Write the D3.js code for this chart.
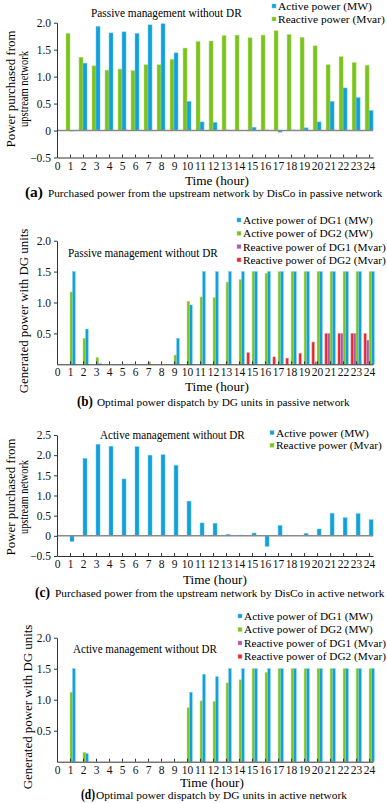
<!DOCTYPE html>
<html>
<head>
<meta charset="utf-8">
<script src="https://cdn.jsdelivr.net/npm/d3@7"></script>
<style>
  html, body { margin: 0; padding: 0; background: #fff; }
  svg { display: block; font-family: 'Liberation Serif', 'DejaVu Serif', serif; }
</style>
</head>
<body>
<svg id="chart" width="387" height="803"></svg>
<script>
// hours on the x axis and their tick labels
const hours = [1, 2, 3, 4, 5, 6, 7, 8, 9, 10, 11, 12, 13, 14, 15, 16, 17, 18, 19, 20, 21, 22, 23, 24];
const xTicks = [0, 1, 2, 3, 4, 5, 6, 7, 8, 9, 10, 11, 12, 13, 14, 15, 16, 17, 18, 19, 20, 21, 22, 23, 24];

// (a) passive network, power bought from upstream
const passiveGridActive = [-0.01, 1.25, 1.93, 1.81, 1.83, 1.80, 1.96, 1.98, 1.44, 0.54, 0.16, 0.15, 0.01, 0, 0.06, 0.01, -0.03, 0.01, 0.05, 0.16, 0.54, 0.79, 0.61, 0.37];
const passiveGridReactive = [1.80, 1.36, 1.20, 1.12, 1.14, 1.11, 1.22, 1.22, 1.32, 1.53, 1.65, 1.66, 1.76, 1.77, 1.72, 1.77, 1.85, 1.78, 1.73, 1.57, 1.22, 1.37, 1.26, 1.21];

// (b) passive network, DG dispatch
const passiveDG1Active = [1.5, 0.57, 0.01, 0, 0, 0, 0, 0, 0.42, 0.96, 1.5, 1.5, 1.5, 1.5, 1.5, 1.5, 1.5, 1.5, 1.5, 1.5, 1.5, 1.5, 1.5, 1.5];
const passiveDG2Active = [1.17, 0.42, 0.11, 0, 0, 0, 0.04, 0, 0.15, 1.02, 1.09, 1.08, 1.33, 1.37, 1.5, 1.47, 1.5, 1.5, 1.5, 1.5, 1.5, 1.5, 1.5, 1.5];
const passiveDG1Reactive = [0, 0, 0, 0, 0, 0, 0, 0, 0, 0, 0, 0, 0, 0, 0, 0, 0, 0, 0, 0.04, 0.5, 0.5, 0.5, 0.39];
const passiveDG2Reactive = [0, 0, 0, 0, 0, 0, 0, 0, 0, 0, 0, 0, 0, 0, 0.19, 0, 0.12, 0.10, 0.18, 0.36, 0.5, 0.5, 0.5, 0.5];

// (c) active network, power bought from upstream
const activeGridActive = [-0.14, 1.92, 2.27, 2.22, 1.41, 2.21, 2.00, 2.01, 1.75, 0.86, 0.32, 0.31, 0.04, 0.02, 0.07, -0.26, 0.26, 0, 0.06, 0.17, 0.56, 0.45, 0.55, 0.40];
const activeGridReactive = [0, 0, 0, 0, 0, 0, 0, 0, 0, 0, 0, 0, 0, 0, 0, 0, 0, 0, 0, 0, 0, 0, 0, 0];

// (d) active network, DG dispatch
const activeDG1Active = [1.5, 0.13, 0, 0, 0, 0, 0, 0, 0, 1.12, 1.41, 1.37, 1.5, 1.5, 1.5, 1.5, 1.5, 1.5, 1.5, 1.5, 1.5, 1.5, 1.5, 1.5];
const activeDG2Active = [1.12, 0.15, 0, 0, 0, 0, 0, 0, 0, 0.87, 0.98, 0.97, 1.27, 1.32, 1.5, 1.44, 1.5, 1.5, 1.5, 1.5, 1.5, 1.5, 1.5, 1.5];
const activeDG1Reactive = [0, 0, 0, 0, 0, 0, 0, 0, 0, 0, 0, 0, 0, 0, 0, 0, 0, 0, 0, 0, 0, 0, 0, 0];
const activeDG2Reactive = [0, 0, 0, 0, 0, 0, 0, 0, 0, 0, 0, 0, 0, 0, 0, 0, 0, 0, 0, 0, 0, 0, 0, 0];

const BLUE = '#12a0da', GREEN = '#7cc21e', PURPLE = '#a85aae', RED = '#e4282c';
const EDGE = { [BLUE]: '#6cc8ee', [GREEN]: '#b0de70', [PURPLE]: '#d39ad6', [RED]: '#f29a9a' };

const svg = d3.select('#chart');
const x = d3.scaleLinear().domain([0, 24.3]).range([57, 373]);
const fmt = v => v === 0 ? '0' : d3.format('.1f')(v);

// stretch a text horizontally (along its own direction) to the width it has in the reference
function fit(sel, w) {
    const node = sel.node();
    const natural = node.getComputedTextLength();
    if (!natural) return sel;
    const k = w / natural;
    const x0 = +sel.attr('x') || 0, y0 = +sel.attr('y') || 0;
    const prev = sel.attr('transform') || '';
    return sel.attr('transform', `${prev} translate(${x0},${y0}) scale(${k},1) translate(${-x0},${-y0})`);
}

function drawPanel(p) {
    const y = d3.scaleLinear().domain(p.domain).range([p.yBottom, p.yTop]);
    const g = svg.append('g');

    // bars
    p.series.forEach(s => {
        g.selectAll(null)
            .data(hours.map((h, i) => ({ h: h, v: s.values[i] })).filter(d => d.v !== 0))
            .enter()
            .append('rect')
            .attr('x', d => x(d.h) + s.off * p.barW)
            .attr('width', p.barW)
            .attr('y', d => Math.min(y(d.v), y(0)))
            .attr('height', d => Math.abs(y(d.v) - y(0)))
            .attr('fill', s.color)
            .attr('stroke', EDGE[s.color])
            .attr('stroke-width', 0.5);
    });

    if (p.zeroLine) {
        g.append('line')
            .attr('x1', x(0)).attr('x2', x(24.3))
            .attr('y1', y(0)).attr('y2', y(0))
            .attr('stroke', '#8a8a8a').attr('stroke-width', 1.5);
    }

    const xAxis = g.append('g')
        .attr('transform', `translate(0,${p.yBottom})`)
        .call(d3.axisBottom(x).tickValues(xTicks).tickFormat(d3.format('d')).tickSizeInner(-3).tickSizeOuter(0).tickPadding(4));
    const yAxis = g.append('g')
        .attr('transform', `translate(${x(0)},0)`)
        .call(d3.axisLeft(y).tickValues(p.yTicks).tickFormat(fmt).tickSize(3).tickSizeOuter(0).tickPadding(3));
    [xAxis, yAxis].forEach(a => {
        a.selectAll('path, line').attr('stroke', '#333');
        a.selectAll('text').style('font-size', '11.5px').style('font-family', 'Liberation Serif, serif').attr('fill', '#111');
    });

    // title
    fit(g.append('text')
        .attr('x', p.title.x).attr('y', p.title.y)
        .style('font-size', '11.5px')
        .text(p.title.text), p.title.w);

    // legend
    p.legend.items.forEach((it, i) => {
        const cy = p.legend.y + i * p.legend.step;
        g.append('rect')
            .attr('x', p.legend.x).attr('y', cy - 2)
            .attr('width', 4).attr('height', 4)
            .attr('fill', it.color).attr('stroke', EDGE[it.color]).attr('stroke-width', 0.5);
        fit(g.append('text')
            .attr('x', p.legend.x + 6).attr('y', cy + 4)
            .style('font-size', '11px')
            .text(it.label), it.w);
    });

    // axis titles
    fit(g.append('text')
        .attr('x', p.xLabel.x).attr('y', p.xLabel.y)
        .style('font-size', '13.5px')
        .text('Time (hour)'), 64);

    p.yLabel.lines.forEach((line, i) => {
        fit(g.append('text')
            .attr('transform', `translate(${p.yLabel.x + i * 13},${p.yLabel.cy}) rotate(-90)`)
            .attr('text-anchor', 'middle')
            .style('font-size', '13px')
            .text(line.text), line.w);
    });

    // caption
    fit(g.append('text')
        .attr('x', p.caption.x).attr('y', p.caption.y)
        .style('font-size', '14px').style('font-weight', 'bold')
        .text(p.caption.tag), p.caption.tagW);
    fit(g.append('text')
        .attr('x', p.caption.tx).attr('y', p.caption.y)
        .style('font-size', '11px')
        .text(p.caption.text), p.caption.w);
}

drawPanel({
    domain: [-0.5, 2.0], yTop: 22.7, yBottom: 157.5, yTicks: [-0.5, 0, 0.5, 1.0, 1.5, 2.0], zeroLine: true, barW: 4,
    series: [
        { values: passiveGridReactive, color: GREEN, off: -1 },
        { values: passiveGridActive, color: BLUE, off: 0 }
    ],
    title: { text: 'Passive management without DR', x: 91, y: 17, w: 151 },
    legend: { x: 272, y: 6, step: 13, items: [
        { label: 'Active power (MW)', color: BLUE, w: 94 },
        { label: 'Reactive power (Mvar)', color: GREEN, w: 107 }
    ] },
    xLabel: { x: 185, y: 185 },
    yLabel: { x: 14.5, cy: 89, lines: [{ text: 'Power purchased from', w: 117 }, { text: 'upstream network', w: 76 }] },
    caption: { x: 25, tx: 48, y: 197, tag: '(a)', tagW: 18, w: 335, text: 'Purchased power from the upstream network by DisCo in passive network' }
});

drawPanel({
    domain: [0, 2.0], yTop: 240.7, yBottom: 364.3, yTicks: [0.5, 1.0, 1.5, 2.0], zeroLine: false, barW: 2.6,
    series: [
        { values: passiveDG2Reactive, color: RED, off: -2 },
        { values: passiveDG1Reactive, color: PURPLE, off: -1 },
        { values: passiveDG2Active, color: GREEN, off: 0 },
        { values: passiveDG1Active, color: BLUE, off: 1 }
    ],
    title: { text: 'Passive management without DR', x: 68, y: 257, w: 150 },
    legend: { x: 237, y: 220, step: 13.3, items: [
        { label: 'Active power of DG1 (MW)', color: BLUE, w: 130 },
        { label: 'Active power of DG2 (MW)', color: GREEN, w: 130 },
        { label: 'Reactive power of DG1 (Mvar)', color: PURPLE, w: 143 },
        { label: 'Reactive power of DG2 (Mvar)', color: RED, w: 143 }
    ] },
    xLabel: { x: 185, y: 391 },
    yLabel: { x: 27.5, cy: 311, lines: [{ text: 'Generated power with DG units', w: 165 }] },
    caption: { x: 77, tx: 97, y: 406, tag: '(b)', tagW: 16, w: 253, text: 'Optimal power dispatch by DG units in passive network' }
});

drawPanel({
    domain: [-0.5, 2.5], yTop: 435, yBottom: 556, yTicks: [-0.5, 0, 0.5, 1.0, 1.5, 2.0, 2.5], zeroLine: true, barW: 4,
    series: [
        { values: activeGridReactive, color: GREEN, off: -1 },
        { values: activeGridActive, color: BLUE, off: 0 }
    ],
    title: { text: 'Active management without DR', x: 100, y: 439, w: 145 },
    legend: { x: 270, y: 432.7, step: 12.5, items: [
        { label: 'Active power (MW)', color: BLUE, w: 93 },
        { label: 'Reactive power (Mvar)', color: GREEN, w: 106 }
    ] },
    xLabel: { x: 183, y: 584 },
    yLabel: { x: 14.5, cy: 497, lines: [{ text: 'Power purchased from', w: 117 }, { text: 'upstream network', w: 74 }] },
    caption: { x: 35, tx: 55, y: 597, tag: '(c)', tagW: 15, w: 330, text: 'Purchased power from the upstream network by DisCo in active network' }
});

drawPanel({
    domain: [0, 2.0], yTop: 637.7, yBottom: 761.7, yTicks: [0.5, 1.0, 1.5, 2.0], zeroLine: false, barW: 2.6,
    series: [
        { values: activeDG2Reactive, color: RED, off: -2 },
        { values: activeDG1Reactive, color: PURPLE, off: -1 },
        { values: activeDG2Active, color: GREEN, off: 0 },
        { values: activeDG1Active, color: BLUE, off: 1 }
    ],
    title: { text: 'Active management without DR', x: 73, y: 653, w: 144 },
    legend: { x: 238, y: 616, step: 13.5, items: [
        { label: 'Active power of DG1 (MW)', color: BLUE, w: 129 },
        { label: 'Active power of DG2 (MW)', color: GREEN, w: 129 },
        { label: 'Reactive power of DG1 (Mvar)', color: PURPLE, w: 142 },
        { label: 'Reactive power of DG2 (Mvar)', color: RED, w: 142 }
    ] },
    xLabel: { x: 180, y: 787 },
    yLabel: { x: 32, cy: 707, lines: [{ text: 'Generated power with DG units', w: 165 }] },
    caption: { x: 81, tx: 96, y: 799, tag: '(d)', tagW: 14, w: 251, text: 'Optimal power dispatch by DG units in active network' }
});
</script>
</body>
</html>
